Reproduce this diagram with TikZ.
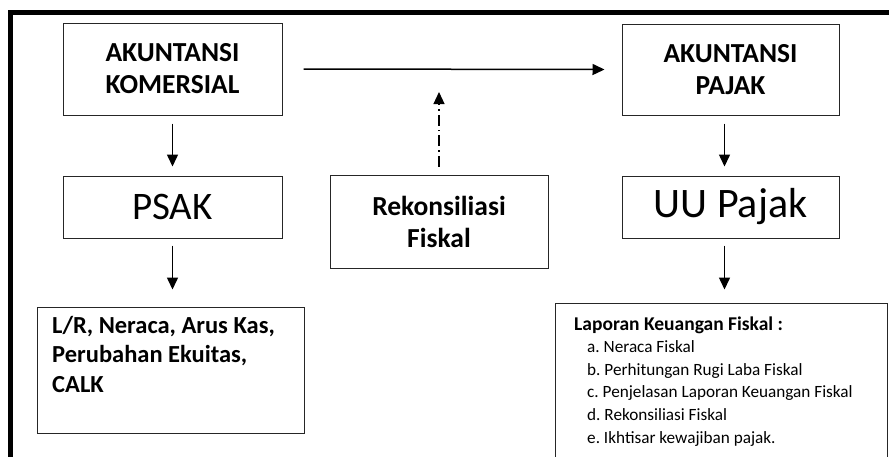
\documentclass[tikz,border=0pt]{standalone}
\usepackage{fontspec}
\setmainfont{Carlito}
\frenchspacing
\usetikzlibrary{arrows.meta,calc}
\begin{document}
\begin{tikzpicture}[x=1pt,y=-1pt,
  box/.style={draw=black!85, line width=1pt, inner sep=0pt, align=center},
  arr/.style={line width=1.5pt, -{Triangle[length=12pt,width=11pt]}},
  dashdot/.style={line width=1.2pt, dash pattern=on 11pt off 4pt on 1.5pt off 4pt, -{Triangle[length=12pt,width=11pt]}},
  frameline/.style={line width=5pt},
  bigtxt/.style={font=\bfseries\fontsize{27.5}{32}\selectfont}]
\useasboundingbox (0,0) rectangle (889,456);
\clip (0,0) rectangle (889,456);
\fill[white] (0,0) rectangle (889,456);
\draw[frameline] (8,12.5) -- (895,12.5);
\draw[frameline] (10.5,10) -- (10.5,462);

\node[box, bigtxt, minimum width=219pt, minimum height=92pt] (K) at (172.5,69) {AKUNTANSI\\KOMERSIAL};
\node[box, font=\fontsize{39}{46}\selectfont, minimum width=219pt, minimum height=62pt] (P) at (172.5,207) {PSAK};
\node[box, minimum width=267pt, minimum height=126pt] (LR) at (170.5,370) {};
\node[anchor=base west, inner sep=0pt, align=left, font=\bfseries\fontsize{24.5}{29.5}\selectfont] (LRt) at (52,392) {L/R, Neraca, Arus Kas,\\Perubahan Ekuitas,\\CALK};

\node[box, bigtxt, minimum width=218pt, minimum height=93pt] (R) at (439,221.5) {Rekonsiliasi\\Fiskal};

\node[box, bigtxt, minimum width=217pt, minimum height=91pt] (AP) at (730.5,69.5) {AKUNTANSI\\PAJAK};
\node[box, font=\fontsize{42}{48}\selectfont, minimum width=217pt, minimum height=62pt] (UU) at (730.5,207) {UU Pajak};
\node[box, minimum width=332pt, minimum height=172pt] (LK) at (721,389) {};
\node[anchor=base west, inner sep=0pt, font=\bfseries\fontsize{19.5}{22}\selectfont] (LKt) at (574,330) {Laporan Keuangan Fiskal :};
\node[anchor=base west, inner sep=0pt, align=left, font=\fontsize{17.2}{22.6}\selectfont] (LKl) at (587,443) {a. Neraca Fiskal\\b. Perhitungan Rugi Laba Fiskal\\c. Penjelasan Laporan Keuangan Fiskal\\d. Rekonsiliasi Fiskal\\e. Ikhtisar kewajiban pajak.};

\draw[arr] ([yshift=-8pt]K.south) -- ([yshift=9pt]P.north);
\draw[arr] ([yshift=-7pt]P.south) -- ($(P.south |- LR.north)+(0,-17)$);
\draw[arr] ([xshift=21pt]K.east) -- ([xshift=-17pt]AP.west);
\draw[arr] ([xshift=-6pt,yshift=-8pt]AP.south) -- ([xshift=-6pt,yshift=9pt]UU.north);
\draw[arr] ([xshift=-6pt,yshift=-7pt]UU.south) -- ($(UU.south |- LK.north)+(-6,-13)$);
\coordinate (rtip) at (439,92);
\draw[dashdot] ([yshift=8pt]R.north) -- (rtip);
\end{tikzpicture}
\end{document}
